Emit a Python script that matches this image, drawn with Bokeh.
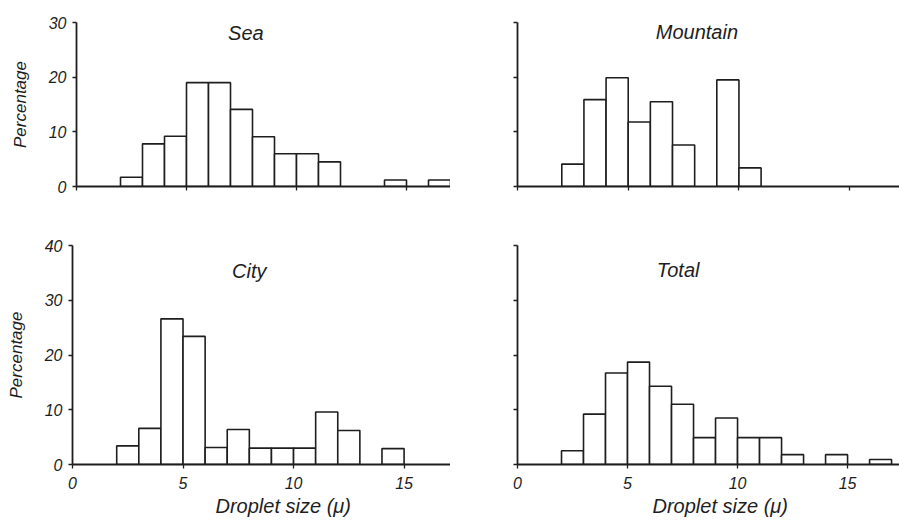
from bokeh.plotting import figure
from bokeh.layouts import column, row
from bokeh.models import Label, FixedTicker, Title
from bokeh.embed import file_html
from bokeh.resources import INLINE

# Bin left edges (droplet size, microns), each bin 1 micron wide
sea_bins = [2, 3, 4, 5, 6, 7, 8, 9, 10, 11, 14, 16]
sea_pct = [1.7, 7.8, 9.2, 19.0, 19.0, 14.1, 9.1, 6.0, 6.0, 4.5, 1.2, 1.2]

mountain_bins = [2, 3, 4, 5, 6, 7, 9, 10]
mountain_pct = [4.1, 15.9, 19.9, 11.8, 15.5, 7.6, 19.5, 3.4]

city_bins = [2, 3, 4, 5, 6, 7, 8, 9, 10, 11, 12, 14]
city_pct = [3.4, 6.6, 26.6, 23.4, 3.1, 6.4, 3.0, 3.0, 3.0, 9.6, 6.2, 2.9]

total_bins = [2, 3, 4, 5, 6, 7, 8, 9, 10, 11, 12, 14, 16]
total_pct = [2.5, 9.2, 16.7, 18.7, 14.3, 11.0, 4.9, 8.5, 4.9, 4.9, 1.8, 1.8, 0.9]

x_ticks = [0, 5, 10, 15]
top_y_ticks = [0, 10, 20, 30]
bottom_y_ticks = [0, 10, 20, 30, 40]

FONT = "Liberation Sans"
INK = "#1e1e1e"


def panel(bins, pct, title, tpos, w, h, xmax, ymax, yticks, borders,
          show_x_labels, show_y_labels, xlab_offset=0):
    left, top, bottom = borders
    p = figure(width=w, height=h, x_range=(0, xmax), y_range=(0, ymax),
               output_backend="svg", toolbar_location=None,
               min_border_left=left, min_border_right=0,
               min_border_top=top, min_border_bottom=bottom)
    p.outline_line_color = None
    p.grid.visible = False
    p.background_fill_color = "white"
    p.border_fill_color = "white"
    p.quad(left=bins, right=[b + 1 for b in bins], bottom=0, top=pct,
           fill_color="white", line_color=INK, line_width=1.6)
    for ax in (p.xaxis[0], p.yaxis[0]):
        ax.axis_line_color = INK
        ax.axis_line_width = 1.8
        ax.major_tick_line_color = INK
        ax.major_tick_line_width = 1.3
        ax.major_tick_out = 4
        ax.major_tick_in = 0
        ax.minor_tick_line_color = None
        ax.major_label_text_font = FONT
        ax.major_label_text_font_style = "italic"
        ax.major_label_text_color = INK
        ax.major_label_text_font_size = "16px"
    p.xaxis.ticker = FixedTicker(ticks=x_ticks)
    p.yaxis.ticker = FixedTicker(ticks=yticks)
    p.xaxis.major_label_standoff = 8
    p.yaxis.major_label_standoff = 6
    if not show_x_labels:
        p.xaxis.major_label_overrides = {t: "" for t in x_ticks}
    if not show_y_labels:
        p.yaxis.major_label_overrides = {t: "" for t in yticks}
    else:
        p.yaxis.axis_label = "Percentage"
        p.yaxis.axis_label_text_font = FONT
        p.yaxis.axis_label_text_font_style = "italic"
        p.yaxis.axis_label_text_font_size = "17px"
        p.yaxis.axis_label_text_color = INK
        p.yaxis.axis_label_standoff = 16
    p.add_layout(Label(x=tpos[0], y=tpos[1], text=title, text_font=FONT,
                       text_font_style="italic", text_font_size="20px",
                       text_color=INK, text_align="center",
                       text_baseline="middle"))
    if show_x_labels:
        p.add_layout(Title(text="Droplet size (\u03bc)", align="left",
                           offset=xlab_offset, text_font=FONT,
                           text_font_style="italic", text_font_size="20px",
                           text_color=INK, standoff=2), "below")
    return p


p1 = panel(sea_bins, sea_pct, "Sea", (7.7, 28.0), 450, 215, 17.0, 30,
           top_y_ticks, (76, 20, 29), False, True)
p2 = panel(mountain_bins, mountain_pct, "Mountain", (8.1, 28.3), 449, 215,
           17.25, 30, top_y_ticks, (67, 22, 26), False, False)
p3 = panel(city_bins, city_pct, "City", (8.0, 35.4), 450, 308, 17.1, 40,
           bottom_y_ticks, (72, 27, 59), True, True, 143)
p4 = panel(total_bins, total_pct, "Total", (7.3, 35.5), 449, 308, 17.36, 40,
           bottom_y_ticks, (67, 30, 56), True, False, 135)

layout = column(row(p1, p2), row(p3, p4))
open("out.html", "w").write(file_html(layout, INLINE))
